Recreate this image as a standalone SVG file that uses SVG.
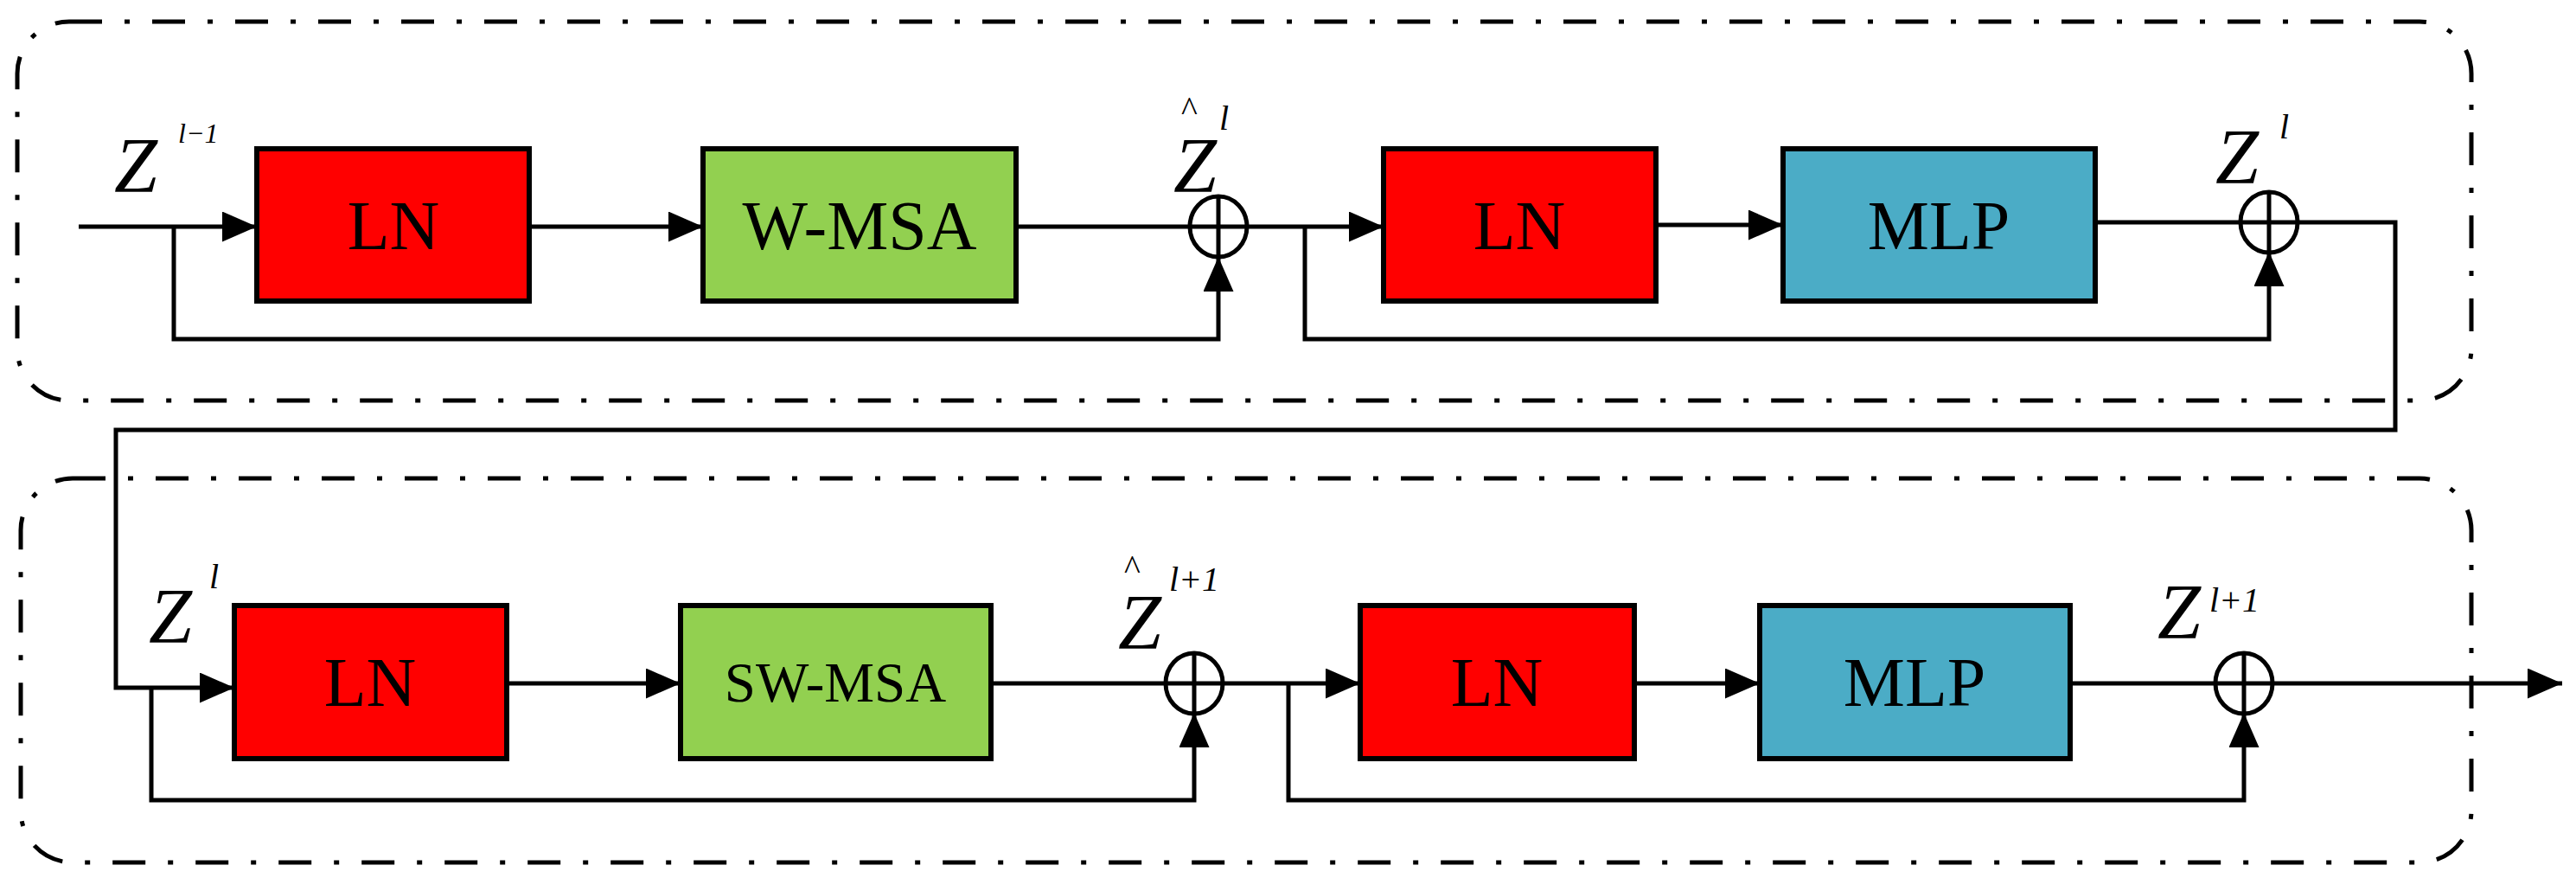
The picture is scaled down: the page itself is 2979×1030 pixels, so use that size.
<svg xmlns="http://www.w3.org/2000/svg" width="2979" height="1030" viewBox="0 0 2979 1030">
<style>
.panel{fill:none;stroke:#000;stroke-width:5;stroke-dasharray:38 26 6 26}
.box{stroke:#000;stroke-width:6}
.ln{fill:#ff0000}.msa{fill:#92d050}.mlp{fill:#4bacc6}
.lbl{font-family:"Liberation Serif",serif;font-size:80px;text-anchor:middle;fill:#000}
.w{fill:none;stroke:#000;stroke-width:5}
.sum{fill:#fff;stroke:#000;stroke-width:5}
.m{font-family:"Liberation Serif",serif;font-style:italic;fill:#000}
</style>
<defs>
<marker id="a" markerWidth="8" markerHeight="7" refX="8" refY="3.5" orient="auto" markerUnits="strokeWidth"><path d="M0,0L8,3.5L0,7z" fill="#000"/></marker>
</defs>
<rect class="panel" x="20" y="25" width="2838" height="438" rx="60"/>
<rect class="panel" x="24" y="553" width="2834" height="444" rx="60"/>
<g id="connectors">
<path class="w" d="M91,262H297" marker-end="url(#a)"/>
<path class="w" d="M612,262H813" marker-end="url(#a)"/>
<path class="w" d="M1175,262H1600" marker-end="url(#a)"/>
<path class="w" d="M201,262V392H1409V297" marker-end="url(#a)"/>
<path class="w" d="M1915,260H2062" marker-end="url(#a)"/>
<path class="w" d="M2423,257H2770V497H134V795H271" marker-end="url(#a)"/>
<path class="w" d="M1509,262V392H2624V291" marker-end="url(#a)"/>
<path class="w" d="M586,790H787" marker-end="url(#a)"/>
<path class="w" d="M1146,790H1573" marker-end="url(#a)"/>
<path class="w" d="M175,795V925H1381V824" marker-end="url(#a)"/>
<path class="w" d="M1490,790V925H2595V824" marker-end="url(#a)"/>
<path class="w" d="M1890,790H2035" marker-end="url(#a)"/>
<path class="w" d="M2394,790H2963" marker-end="url(#a)"/>
</g>
<g id="ln1"><rect class="box ln" x="297" y="172" width="315" height="176"/><text class="lbl" x="455" y="288">LN</text></g>
<g id="wmsa"><rect class="box msa" x="813" y="172" width="362" height="176"/><text class="lbl" x="994" y="288">W-MSA</text></g>
<g id="ln2"><rect class="box ln" x="1600" y="172" width="315" height="176"/><text class="lbl" x="1757" y="288">LN</text></g>
<g id="mlp1"><rect class="box mlp" x="2062" y="172" width="361" height="176"/><text class="lbl" x="2242" y="288">MLP</text></g>
<g id="ln3"><rect class="box ln" x="271" y="700" width="315" height="177"/><text class="lbl" x="428" y="816">LN</text></g>
<g id="swmsa"><rect class="box msa" x="787" y="700" width="359" height="177"/><text class="lbl" x="966" y="811" style="font-size:65px">SW-MSA</text></g>
<g id="ln4"><rect class="box ln" x="1573" y="700" width="317" height="177"/><text class="lbl" x="1731" y="816">LN</text></g>
<g id="mlp2"><rect class="box mlp" x="2035" y="700" width="359" height="177"/><text class="lbl" x="2214" y="816">MLP</text></g>
<g id="sum1"><ellipse class="sum" cx="1409" cy="262" rx="33" ry="35"/><path class="w" d="M1376,262H1442M1409,227V297"/></g>
<g id="sum2"><ellipse class="sum" cx="2624" cy="257" rx="33" ry="35"/><path class="w" d="M2591,257H2657M2624,222V292"/></g>
<g id="sum3"><ellipse class="sum" cx="1381" cy="790" rx="33" ry="35"/><path class="w" d="M1348,790H1414M1381,755V825"/></g>
<g id="sum4"><ellipse class="sum" cx="2595" cy="790" rx="33" ry="35"/><path class="w" d="M2562,790H2628M2595,755V825"/></g>
<g id="labels">
<text class="m" x="132" y="222" font-size="90">Z</text><text class="m" x="206" y="165" font-size="32">l−1</text>
<text class="m" x="1357" y="222" font-size="90">Z</text><text class="m" x="1366" y="140" font-size="40" style="font-style:normal">^</text><text class="m" x="1410" y="150" font-size="40">l</text>
<text class="m" x="2562" y="212" font-size="90">Z</text><text class="m" x="2636" y="160" font-size="40">l</text>
<text class="m" x="172" y="743" font-size="90">Z</text><text class="m" x="242" y="680" font-size="40">l</text>
<text class="m" x="1293" y="750" font-size="90">Z</text><text class="m" x="1300" y="670" font-size="40" style="font-style:normal">^</text><text class="m" x="1352" y="683" font-size="40">l+1</text>
<text class="m" x="2495" y="738" font-size="90">Z</text><text class="m" x="2555" y="707" font-size="40">l+1</text>
</g>
</svg>
